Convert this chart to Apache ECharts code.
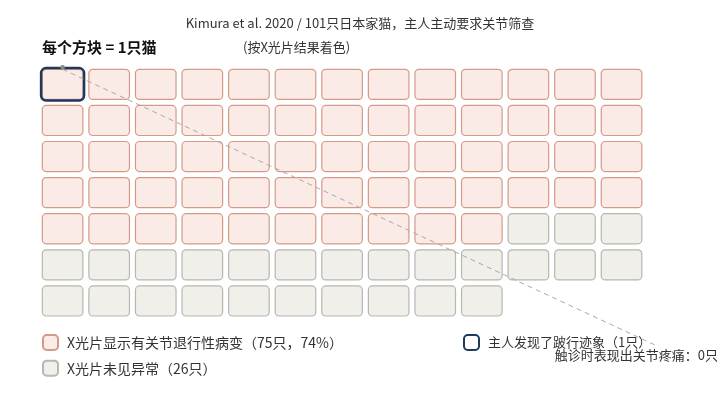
<!DOCTYPE html>
<html><head><meta charset="utf-8">
<script src="https://cdn.jsdelivr.net/npm/echarts@6/dist/echarts.min.js"></script>
<style>html,body{margin:0;padding:0;background:#fff}#c{width:720px;height:402px}</style>
</head><body><div id="c"></div>
<script>
// ---- data ----
const titleText = 'Kimura et al. 2020 / 101只日本家猫，主人主动要求关节筛查';
const categories = ['X光片显示有关节退行性病变（75只，74%）', 'X光片未见异常（26只）'];
const cellCounts = [62, 26];           // squares drawn per category (as in picture)
const highlightName = '主人发现了跛行迹象（1只）';
const highlightCells = [0];            // index of highlighted square
const painNote = '触诊时表现出关节疼痛：0只';
const nCols = 13;
const nRows = 7;

const fills = ['#fbebe6', '#f1efe9'];
const strokes = ['#d49a88', '#b7b6b1'];
const navy = '#1d3a5c';
const FONT = '"Noto Sans CJK SC", "Noto Sans", sans-serif';

function cellsFor(k) {
  let start = 0; for (let i = 0; i < k; i++) start += cellCounts[i];
  const out = [];
  for (let i = 0; i < cellCounts[k]; i++) { const idx = start + i; out.push([idx % nCols, Math.floor(idx / nCols)]); }
  return out;
}
function makeRender(k, pad, highlight) {
  return function (params, api) {
    const p = api.coord([api.value(0), api.value(1)]);
    const s = api.size([1, 1]);
    const gx = 3, gy = 3;
    const x = p[0] + gx - pad, y = p[1] + gy - pad, w = s[0] - 2 * gx + 2 * pad, h = s[1] - 2 * gy + 2 * pad;
    return {
      type: 'rect',
      shape: { x: x, y: y, width: w, height: h, r: highlight ? 5 : 4 },
      style: highlight ? { fill: 'none', stroke: navy, lineWidth: 2.5 }
                       : { fill: fills[k], stroke: strokes[k], lineWidth: 1.2 }
    };
  };
}
const series = categories.map((name, k) => ({
  type: 'custom', name: name, coordinateSystem: 'cartesian2d',
  renderItem: makeRender(k, 0, false), data: cellsFor(k),
  itemStyle: { color: fills[k], borderColor: strokes[k], borderWidth: 1.2 },
  silent: true
}));
series.push({
  type: 'custom', name: highlightName, coordinateSystem: 'cartesian2d',
  renderItem: makeRender(0, 1.2, true),
  data: highlightCells.map(idx => [idx % nCols, Math.floor(idx / nCols)]),
  itemStyle: { color: '#ffffff', borderColor: navy, borderWidth: 2.5 }, z: 5, silent: true
});

const legendText = { fontSize: 14, color: '#333', fontFamily: FONT, padding: [0, 0, 0, 4] };
const chart = echarts.init(document.getElementById('c'), null, { renderer: 'canvas' });
chart.setOption({
  animation: false,
  textStyle: { fontFamily: FONT },
  title: { text: titleText, left: 'center', top: 12, textStyle: { fontSize: 13, fontWeight: 'normal', color: '#333', fontFamily: FONT } },
  grid: { left: 39.3, top: 66.3, width: 13 * 46.58, height: 7 * 36.1 },
  xAxis: { type: 'value', min: 0, max: nCols, show: false },
  yAxis: { type: 'value', min: 0, max: nRows, inverse: true, show: false },
  legend: [
    { data: categories, orient: 'vertical', left: 37, top: 329, itemWidth: 15, itemHeight: 15, itemGap: 8.7,
      icon: 'roundRect', selectedMode: false, textStyle: legendText },
    { data: [highlightName], left: 458, top: 329, itemWidth: 15, itemHeight: 15,
      icon: 'roundRect', selectedMode: false, textStyle: Object.assign({}, legendText, { fontSize: 13 }) }
  ],
  series: series
});

const top0 = chart.convertToPixel({ gridIndex: 0 }, [0.5, 0]);
chart.setOption({
  graphic: [
    { type: 'text', left: 42, top: 40, style: { text: '每个方块 = 1只猫', font: 'bold 15px ' + FONT, fill: '#111' } },
    { type: 'text', left: 243, top: 41, style: { text: '(按X光片结果着色)', font: '13px ' + FONT, fill: '#333' } },
    { type: 'line', z: 10, shape: { x1: top0[0], y1: top0[1] + 3, x2: 655, y2: 345 },
      style: { stroke: '#a8a8a8', lineWidth: 1, lineDash: [5, 4] } },
    { type: 'circle', z: 11, shape: { cx: top0[0], cy: top0[1] + 1, r: 2.2 }, style: { fill: '#888' } },
    { type: 'text', right: 2, top: 349, style: { text: painNote, font: '13px ' + FONT, fill: '#333' } }
  ]
});
</script></body></html>
